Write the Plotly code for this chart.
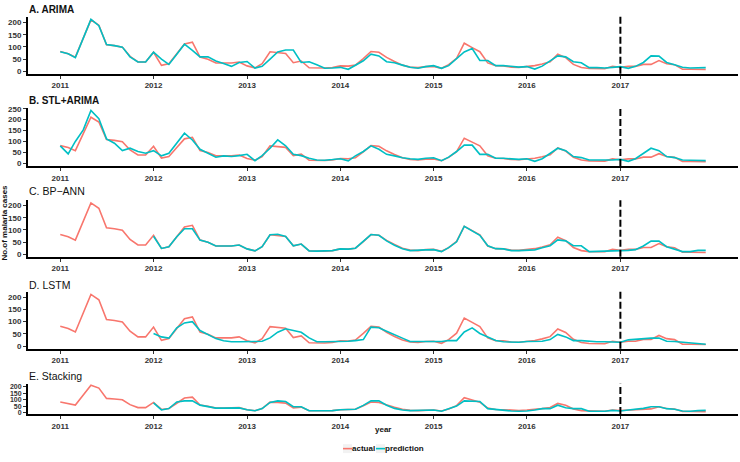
import pandas as pd
import plotly.graph_objects as go

# ---------------- data ----------------
months = pd.date_range("2011-01-01", periods=84, freq="MS")
forecast_start = "2017-01-01"
year_ticks = ["2011", "2012", "2013", "2014", "2015", "2016", "2017"]

actual = [81, 72, 58, 135, 211, 189, 109, 105, 99, 61, 38, 38,
          78, 24, 31, 72, 112, 119, 58, 49, 34, 34, 34, 38,
          22, 14, 31, 80, 78, 73, 35, 42, 14, 13, 13, 15,
          22, 21, 25, 52, 81, 78, 57, 40, 25, 17, 15, 19,
          20, 12, 27, 53, 115, 97, 80, 34, 23, 22, 17, 16,
          19, 23, 30, 39, 70, 56, 28, 15, 11, 11, 10, 20,
          16, 20, 20, 28, 28, 44, 31, 27, 8, 8, 7, 7]

pred_arima = [80, 72, 56, 135, 213, 187, 110, 105, 99, 59, 38, 38,
              78, 50, 28, 70, 111, 86, 59, 59, 42, 32, 20, 36,
              40, 13, 20, 50, 79, 87, 87, 36, 39, 27, 12, 13,
              16, 8, 23, 43, 70, 63, 39, 35, 25, 16, 12, 19,
              23, 12, 23, 50, 79, 93, 44, 44, 23, 23, 21, 17,
              19, 9, 21, 42, 63, 59, 39, 35, 15, 15, 13, 16,
              19, 12, 20, 36, 63, 62, 36, 27, 16, 13, 13, 15]

pred_stl_arima = [80, 43, 100, 153, 242, 204, 112, 92, 58, 69, 54, 46,
                  58, 34, 46, 92, 138, 107, 64, 46, 28, 34, 31, 35,
                  41, 12, 35, 69, 107, 80, 41, 35, 23, 15, 14, 17,
                  21, 11, 34, 54, 80, 64, 41, 34, 25, 21, 18, 23,
                  25, 12, 28, 54, 83, 83, 41, 41, 23, 23, 20, 18,
                  21, 9, 21, 46, 69, 58, 31, 26, 15, 15, 14, 15,
                  18, 9, 21, 46, 69, 58, 31, 26, 15, 14, 12, 12]

# the next three models start in January 2012
pred_bpann = [74, 24, 31, 72, 105, 105, 58, 49, 34, 34, 34, 38,
              22, 14, 31, 80, 82, 73, 35, 42, 14, 13, 13, 15,
              22, 21, 25, 52, 81, 78, 55, 37, 23, 15, 15, 18,
              19, 11, 27, 51, 115, 96, 78, 35, 23, 22, 15, 15,
              16, 18, 27, 35, 59, 55, 35, 35, 11, 12, 11, 14,
              14, 16, 19, 34, 54, 54, 31, 20, 11, 11, 16, 16]

pred_lstm = [52, 38, 33, 75, 95, 100, 64, 48, 31, 22, 18, 18,
             20, 19, 20, 34, 57, 71, 64, 57, 34, 18, 18, 18,
             20, 20, 23, 27, 78, 75, 61, 48, 33, 19, 19, 19,
             19, 19, 23, 23, 58, 75, 52, 37, 23, 18, 16, 16,
             19, 19, 20, 27, 48, 38, 23, 23, 20, 18, 18, 16,
             16, 26, 29, 30, 33, 33, 20, 19, 16, 11, 8, 8]

pred_stacking = [75, 20, 31, 82, 90, 90, 57, 45, 34, 34, 34, 36,
                 22, 14, 31, 78, 90, 85, 45, 45, 14, 13, 13, 15,
                 22, 22, 25, 55, 90, 90, 57, 32, 20, 15, 15, 17,
                 20, 10, 30, 50, 90, 90, 85, 30, 22, 20, 12, 10,
                 12, 20, 30, 30, 57, 37, 30, 30, 10, 10, 10, 17,
                 12, 20, 25, 32, 45, 45, 30, 25, 12, 10, 15, 17]

panel_titles = ["A. ARIMA", "B. STL+ARIMA", "C. BP\u2212ANN", "D. LSTM", "E. Stacking"]
title_bold = [True, True, False, False, False]
series_names = ["actual", "prediction"]
predictions = [(months, pred_arima), (months, pred_stl_arima),
               (months[12:], pred_bpann), (months[12:], pred_lstm),
               (months[12:], pred_stacking)]

# ---------------- layout geometry (pixels) ----------------
W, H = 740, 462
ML, MR = 28, 2
PW = W - ML - MR
panel_px = [(13.9, 71.6), (106.0, 164.7), (199.5, 256.6), (292.0, 349.6), (385.0, 415.4)]
title_px = [7, 99, 190, 285, 377]
tick_size = [8, 8, 8, 8, 7]

RED = "#F8766D"
TEAL = "#00BFC4"
COLORS = [RED, TEAL]
FONT = "Liberation Sans, Arial, sans-serif"


def px_x(p):
    return (p - ML) / PW


def px_y(p):
    return 1 - p / H


fig = go.Figure()
n_days = (months[-1] - months[0]).days
pad = pd.Timedelta(days=n_days * 0.05)
xrange = [months[0] - pad, months[-1] + pad]
tickvals = [pd.Timestamp(y + "-01-01") for y in year_ticks]

layout = dict(
    width=W, height=H,
    margin=dict(l=ML, r=MR, t=0, b=0),
    paper_bgcolor="white", plot_bgcolor="white",
    font=dict(family=FONT, color="#222"),
    showlegend=False,
)
annotations = []
shapes = []

for i in range(5):
    k = "" if i == 0 else str(i + 1)
    xa, ya = "x" + k, "y" + k
    px, py = predictions[i]
    fig.add_trace(go.Scatter(x=months, y=actual, mode="lines", name=series_names[0],
                             line=dict(color=RED, width=1.6), xaxis=xa, yaxis=ya))
    fig.add_trace(go.Scatter(x=px, y=py, mode="lines", name=series_names[1],
                             line=dict(color=TEAL, width=1.6), xaxis=xa, yaxis=ya))
    top, bot = panel_px[i]
    ymax = max(max(actual), max(py))
    layout["xaxis" + k] = dict(
        domain=[0, 1], anchor=ya, range=xrange, type="date",
        tickvals=tickvals, ticktext=year_ticks,
        showline=True, linecolor="black", linewidth=2,
        ticks="outside", ticklen=3, tickwidth=1, tickcolor="#333",
        tickfont=dict(size=8, family=FONT, color="#333", weight="bold"),
        showgrid=False, zeroline=False,
    )
    layout["yaxis" + k] = dict(
        domain=[px_y(bot), px_y(top)], anchor=xa,
        range=[-0.05 * ymax, 1.05 * ymax], dtick=50,
        showline=True, linecolor="black", linewidth=2,
        ticks="outside", ticklen=3, tickwidth=1, tickcolor="#333",
        tickfont=dict(size=tick_size[i], family=FONT, color="#333", weight="bold"),
        showgrid=False, zeroline=False,
    )
    shapes.append(dict(type="line", xref=xa, yref=ya + " domain",
                       x0=forecast_start, x1=forecast_start, y0=0, y1=1,
                       line=dict(color="black", width=2, dash="7px,3px")))
    annotations.append(dict(
        text=panel_titles[i], xref="paper", yref="paper", x=px_x(27), y=px_y(title_px[i]),
        xanchor="left", yanchor="middle", showarrow=False,
        font=dict(size=10 if title_bold[i] else 10.5, family=FONT, color="#111",
                  weight="bold" if title_bold[i] else "normal"),
    ))

annotations.append(dict(text="year", xref="paper", yref="paper", x=px_x(383), y=px_y(431),
                        xanchor="center", yanchor="middle", showarrow=False,
                        font=dict(size=8, family=FONT, color="#111", weight="bold")))
annotations.append(dict(text="No.of malaria cases", xref="paper", yref="paper",
                        x=px_x(5), y=px_y(222), xanchor="center", yanchor="middle",
                        textangle=-90, showarrow=False,
                        font=dict(size=8, family=FONT, color="#111", weight="bold")))

# compact legend (ggplot style): short key line + bold label
legend_key_x = [343, 376]
for x0, name, col in zip(legend_key_x, series_names, COLORS):
    shapes.append(dict(type="rect", xref="paper", yref="paper",
                       x0=px_x(x0), x1=px_x(x0 + 9), y0=px_y(455), y1=px_y(446),
                       fillcolor="#F2F2F2", line=dict(width=0), layer="below"))
    shapes.append(dict(type="line", xref="paper", yref="paper",
                       x0=px_x(x0), x1=px_x(x0 + 9), y0=px_y(450.5), y1=px_y(450.5),
                       line=dict(color=col, width=1.6)))
    annotations.append(dict(text=name, xref="paper", yref="paper", x=px_x(x0 + 9),
                            y=px_y(450.5), xanchor="left", yanchor="middle", showarrow=False,
                            xshift=-2,
                            font=dict(size=8, family=FONT, color="#111", weight="bold")))

layout["annotations"] = annotations
layout["shapes"] = shapes
fig.update_layout(**layout)
fig.write_html("out.html", config={"displayModeBar": False},
               post_script="document.body.style.margin='0';")
